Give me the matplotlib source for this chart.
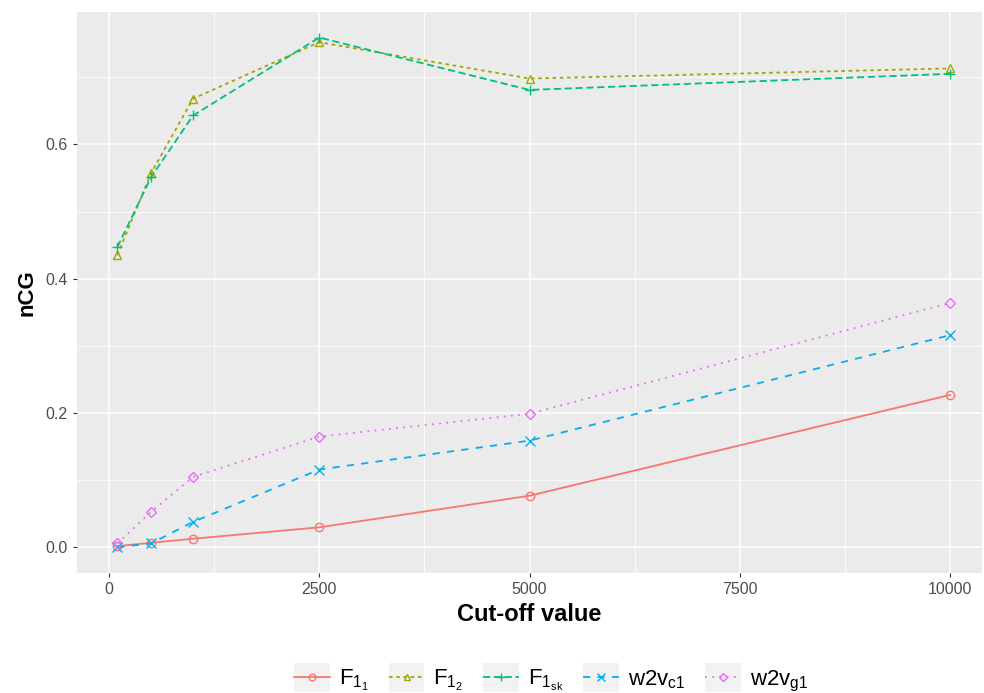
import numpy as np
import matplotlib.pyplot as plt
from matplotlib.ticker import MultipleLocator
from matplotlib.legend_handler import HandlerLine2D
from matplotlib.patches import Rectangle

plt.rcParams['font.family'] = ['Liberation Sans', 'DejaVu Sans']
plt.rcParams['mathtext.fontset'] = 'custom'
plt.rcParams['mathtext.rm'] = 'Liberation Sans'
plt.rcParams['mathtext.it'] = 'Liberation Sans:italic'

# cut-off values on the x axis
cutoff = [100, 500, 1000, 2500, 5000, 10000]

# nCG per method
f1_1 = [0.002, 0.007, 0.013, 0.030, 0.077, 0.227]
f1_2 = [0.435, 0.557, 0.668, 0.752, 0.698, 0.713]
f1_sk = [0.447, 0.551, 0.643, 0.759, 0.681, 0.705]
w2v_c1 = [0.000, 0.006, 0.038, 0.116, 0.159, 0.316]
w2v_g1 = [0.006, 0.053, 0.105, 0.165, 0.199, 0.364]

labels = [r'$\mathregular{F_{1_1}}$', r'$\mathregular{F_{1_2}}$',
          r'$\mathregular{F_{1_{sk}}}$', r'$\mathregular{w2v_{c1}}$',
          r'$\mathregular{w2v_{g1}}$']
series = [f1_1, f1_2, f1_sk, w2v_c1, w2v_g1]
colors = ['#F8766D', '#A3A500', '#00BF7D', '#00B0F6', '#E76BF3']
markers = ['o', '^', '+', 'x', 'D']
dashes = [None, (2, 2), (4, 2), (4, 4), (1, 3)]


class KeyHandler(HandlerLine2D):
    # ggplot-style legend key: grey square behind the line
    def create_artists(self, legend, orig_handle, xdescent, ydescent,
                       width, height, fontsize, trans):
        arts = super().create_artists(legend, orig_handle, xdescent, ydescent,
                                      width, height, fontsize, trans)
        bg = Rectangle((-xdescent, -ydescent - height * 0.45), width,
                       height * 1.9, facecolor='#F2F2F2', edgecolor='none',
                       transform=trans)
        return [bg] + list(arts)


fig = plt.figure(figsize=(9.84, 6.93), dpi=100)
ax = fig.add_axes([77 / 984, 1 - 573 / 693, (982 - 77) / 984, (573 - 12) / 693])
ax.set_facecolor('#EBEBEB')

for ys, lab, c, m, d in zip(series, labels, colors, markers, dashes):
    ms = 7 if m in ('+', 'x') else 6
    if m == 'D':
        ms = 5.5
    line, = ax.plot(cutoff, ys, color=c, lw=1.3, label=lab, marker=m,
                    markersize=ms, markerfacecolor='none', markeredgecolor=c,
                    markeredgewidth=1.0)
    if d is not None:
        line.set_dashes(d)

ax.set_xlim(-380, 10380)
ax.set_ylim(-0.038, 0.797)
ax.xaxis.set_minor_locator(MultipleLocator(1250))
ax.yaxis.set_minor_locator(MultipleLocator(0.1))
ax.set_xticks([0, 2500, 5000, 7500, 10000])
ax.set_xticklabels(['0', '2500', '5000', '7500', '10000'])
ax.set_yticks([0.0, 0.2, 0.4, 0.6])
ax.set_yticklabels(['0.0', '0.2', '0.4', '0.6'])

ax.grid(which='major', color='white', lw=1.1)
ax.grid(which='minor', color='white', lw=0.55)
ax.set_axisbelow(True)
for s in ax.spines.values():
    s.set_visible(False)
ax.tick_params(which='major', length=3, color='#333333', labelcolor='#4D4D4D',
               labelsize=11.5, width=0.8)
ax.tick_params(which='minor', length=0)

ax.set_xlabel('Cut-off value', fontsize=17, fontweight='bold', labelpad=4)
ax.set_ylabel('nCG', fontsize=16, fontweight='bold', labelpad=6)

handles, labs = ax.get_legend_handles_labels()
fig.legend(handles, labs, loc='lower center', bbox_to_anchor=(0.56, -0.03),
           ncol=5, frameon=False, fontsize=16, handlelength=1.6,
           columnspacing=0.9, handletextpad=0.4, markerscale=0.8,
           handler_map={h: KeyHandler() for h in handles})

fig.savefig('out.png', dpi=100)
